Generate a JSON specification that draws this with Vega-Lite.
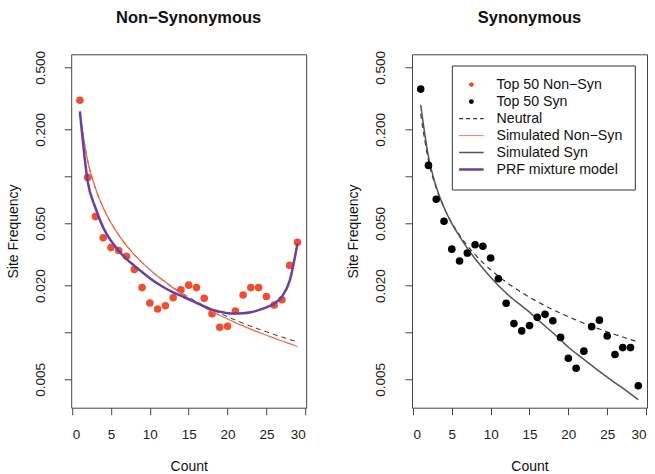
{
  "$schema": "https://vega.github.io/schema/vega-lite/v6.json",
  "background": "white",
  "padding": {"left": 5.2, "top": 9.3, "right": 5, "bottom": 0},
  "bounds": "flush",
  "spacing": 105.8,
  "config": {
    "font": "Liberation Sans",
    "view": {"stroke": "#444", "strokeWidth": 1},
    "axis": {"grid": false, "domain": false, "tickColor": "#444", "tickSize": 7, "labelFontSize": 13.5, "titleFontSize": 14, "labelColor": "#222", "titleColor": "#111", "labelFont": "Liberation Sans", "titleFont": "Liberation Sans", "titleFontWeight": "normal", "labelOverlap": false},
    "title": {"fontSize": 16.5, "font": "Liberation Sans", "fontWeight": "bold", "baseline": "alphabetic", "offset": 23.8, "color": "#111"}
  },
  "datasets": {
    "nonsyn": [
      {"x": 1, "y": 0.308}, {"x": 2, "y": 0.0986}, {"x": 3, "y": 0.0553}, {"x": 4, "y": 0.0404}, {"x": 5, "y": 0.035},
      {"x": 6, "y": 0.0335}, {"x": 7, "y": 0.0308}, {"x": 8, "y": 0.0253}, {"x": 9, "y": 0.0194}, {"x": 10, "y": 0.01545},
      {"x": 11, "y": 0.01415}, {"x": 12, "y": 0.01485}, {"x": 13, "y": 0.0167}, {"x": 14, "y": 0.0188}, {"x": 15, "y": 0.0201},
      {"x": 16, "y": 0.0194}, {"x": 17, "y": 0.01655}, {"x": 18, "y": 0.0132}, {"x": 19, "y": 0.0108}, {"x": 20, "y": 0.01096},
      {"x": 21, "y": 0.01374}, {"x": 22, "y": 0.01738}, {"x": 23, "y": 0.0194}, {"x": 24, "y": 0.0194}, {"x": 25, "y": 0.017},
      {"x": 26, "y": 0.015}, {"x": 27, "y": 0.0162}, {"x": 28, "y": 0.0269}, {"x": 29, "y": 0.0379}
    ],
    "syn": [
      {"x": 1, "y": 0.363, "series": "Top 50 Syn"}, {"x": 2, "y": 0.1177, "series": "Top 50 Syn"}, {"x": 3, "y": 0.0714, "series": "Top 50 Syn"},
      {"x": 4, "y": 0.0516, "series": "Top 50 Syn"}, {"x": 5, "y": 0.0342, "series": "Top 50 Syn"}, {"x": 6, "y": 0.0287, "series": "Top 50 Syn"},
      {"x": 7, "y": 0.0323, "series": "Top 50 Syn"}, {"x": 8, "y": 0.0365, "series": "Top 50 Syn"}, {"x": 9, "y": 0.0357, "series": "Top 50 Syn"},
      {"x": 10, "y": 0.03, "series": "Top 50 Syn"}, {"x": 11, "y": 0.0221, "series": "Top 50 Syn"}, {"x": 12, "y": 0.0154, "series": "Top 50 Syn"},
      {"x": 13, "y": 0.0114, "series": "Top 50 Syn"}, {"x": 14, "y": 0.01024, "series": "Top 50 Syn"}, {"x": 15, "y": 0.01107, "series": "Top 50 Syn"},
      {"x": 16, "y": 0.0125, "series": "Top 50 Syn"}, {"x": 17, "y": 0.01307, "series": "Top 50 Syn"}, {"x": 18, "y": 0.0119, "series": "Top 50 Syn"},
      {"x": 19, "y": 0.0093, "series": "Top 50 Syn"}, {"x": 20, "y": 0.00684, "series": "Top 50 Syn"}, {"x": 21, "y": 0.0059, "series": "Top 50 Syn"},
      {"x": 22, "y": 0.00759, "series": "Top 50 Syn"}, {"x": 23, "y": 0.0109, "series": "Top 50 Syn"}, {"x": 24, "y": 0.012, "series": "Top 50 Syn"},
      {"x": 25, "y": 0.0095, "series": "Top 50 Syn"}, {"x": 26, "y": 0.00722, "series": "Top 50 Syn"}, {"x": 27, "y": 0.008, "series": "Top 50 Syn"},
      {"x": 28, "y": 0.008, "series": "Top 50 Syn"}, {"x": 29, "y": 0.00456, "series": "Top 50 Syn"}
    ],
    "curves": [
      {"series": "Neutral", "x": 1, "y": 0.2524}, {"series": "Neutral", "x": 2, "y": 0.1262}, {"series": "Neutral", "x": 3, "y": 0.08414},
      {"series": "Neutral", "x": 4, "y": 0.06311}, {"series": "Neutral", "x": 5, "y": 0.05048}, {"series": "Neutral", "x": 6, "y": 0.04207},
      {"series": "Neutral", "x": 7, "y": 0.03606}, {"series": "Neutral", "x": 8, "y": 0.03155}, {"series": "Neutral", "x": 9, "y": 0.02805},
      {"series": "Neutral", "x": 10, "y": 0.02524}, {"series": "Neutral", "x": 11, "y": 0.02295}, {"series": "Neutral", "x": 12, "y": 0.02104},
      {"series": "Neutral", "x": 13, "y": 0.01942}, {"series": "Neutral", "x": 14, "y": 0.01803}, {"series": "Neutral", "x": 15, "y": 0.01683},
      {"series": "Neutral", "x": 16, "y": 0.01578}, {"series": "Neutral", "x": 17, "y": 0.01485}, {"series": "Neutral", "x": 18, "y": 0.01402},
      {"series": "Neutral", "x": 19, "y": 0.01329}, {"series": "Neutral", "x": 20, "y": 0.01262}, {"series": "Neutral", "x": 21, "y": 0.01202},
      {"series": "Neutral", "x": 22, "y": 0.01147}, {"series": "Neutral", "x": 23, "y": 0.01097}, {"series": "Neutral", "x": 24, "y": 0.01052},
      {"series": "Neutral", "x": 25, "y": 0.0101}, {"series": "Neutral", "x": 26, "y": 0.00971}, {"series": "Neutral", "x": 27, "y": 0.00935},
      {"series": "Neutral", "x": 28, "y": 0.00901}, {"series": "Neutral", "x": 29, "y": 0.0087},

      {"series": "SimNonSyn", "x": 1, "y": 0.2524}, {"series": "SimNonSyn", "x": 2, "y": 0.1262}, {"series": "SimNonSyn", "x": 3, "y": 0.08414},
      {"series": "SimNonSyn", "x": 4, "y": 0.06311}, {"series": "SimNonSyn", "x": 5, "y": 0.05048}, {"series": "SimNonSyn", "x": 6, "y": 0.04207},
      {"series": "SimNonSyn", "x": 7, "y": 0.03606}, {"series": "SimNonSyn", "x": 8, "y": 0.03155}, {"series": "SimNonSyn", "x": 9, "y": 0.02805},
      {"series": "SimNonSyn", "x": 10, "y": 0.02524}, {"series": "SimNonSyn", "x": 11, "y": 0.02295}, {"series": "SimNonSyn", "x": 12, "y": 0.02104},
      {"series": "SimNonSyn", "x": 13, "y": 0.01932}, {"series": "SimNonSyn", "x": 14, "y": 0.01785}, {"series": "SimNonSyn", "x": 15, "y": 0.01658},
      {"series": "SimNonSyn", "x": 16, "y": 0.01546}, {"series": "SimNonSyn", "x": 17, "y": 0.01451}, {"series": "SimNonSyn", "x": 18, "y": 0.01364},
      {"series": "SimNonSyn", "x": 19, "y": 0.01289}, {"series": "SimNonSyn", "x": 20, "y": 0.0122}, {"series": "SimNonSyn", "x": 21, "y": 0.01158},
      {"series": "SimNonSyn", "x": 22, "y": 0.01101}, {"series": "SimNonSyn", "x": 23, "y": 0.0105}, {"series": "SimNonSyn", "x": 24, "y": 0.01003},
      {"series": "SimNonSyn", "x": 25, "y": 0.0096}, {"series": "SimNonSyn", "x": 26, "y": 0.0092}, {"series": "SimNonSyn", "x": 27, "y": 0.00882},
      {"series": "SimNonSyn", "x": 28, "y": 0.00847}, {"series": "SimNonSyn", "x": 29, "y": 0.00813},

      {"series": "PRF", "x": 1, "y": 0.261}, {"series": "PRF", "x": 2, "y": 0.093}, {"series": "PRF", "x": 3, "y": 0.063},
      {"series": "PRF", "x": 4, "y": 0.047}, {"series": "PRF", "x": 5, "y": 0.0387}, {"series": "PRF", "x": 6, "y": 0.0334},
      {"series": "PRF", "x": 7, "y": 0.0295}, {"series": "PRF", "x": 8, "y": 0.0268}, {"series": "PRF", "x": 9, "y": 0.0244},
      {"series": "PRF", "x": 10, "y": 0.0223}, {"series": "PRF", "x": 11, "y": 0.0206}, {"series": "PRF", "x": 12, "y": 0.0192},
      {"series": "PRF", "x": 13, "y": 0.0181}, {"series": "PRF", "x": 14, "y": 0.0172}, {"series": "PRF", "x": 15, "y": 0.0163},
      {"series": "PRF", "x": 16, "y": 0.0155}, {"series": "PRF", "x": 17, "y": 0.0147}, {"series": "PRF", "x": 18, "y": 0.014},
      {"series": "PRF", "x": 19, "y": 0.0136}, {"series": "PRF", "x": 20, "y": 0.0133}, {"series": "PRF", "x": 21, "y": 0.01325},
      {"series": "PRF", "x": 22, "y": 0.0133}, {"series": "PRF", "x": 23, "y": 0.0135}, {"series": "PRF", "x": 24, "y": 0.0139},
      {"series": "PRF", "x": 25, "y": 0.0145}, {"series": "PRF", "x": 26, "y": 0.0153}, {"series": "PRF", "x": 27, "y": 0.017},
      {"series": "PRF", "x": 28, "y": 0.0215}, {"series": "PRF", "x": 29, "y": 0.0372},

      {"series": "SimSyn", "x": 1, "y": 0.288}, {"series": "SimSyn", "x": 2, "y": 0.134}, {"series": "SimSyn", "x": 3, "y": 0.0859},
      {"series": "SimSyn", "x": 4, "y": 0.0632}, {"series": "SimSyn", "x": 5, "y": 0.05}, {"series": "SimSyn", "x": 6, "y": 0.0413},
      {"series": "SimSyn", "x": 7, "y": 0.0347}, {"series": "SimSyn", "x": 8, "y": 0.0297}, {"series": "SimSyn", "x": 9, "y": 0.0258},
      {"series": "SimSyn", "x": 10, "y": 0.0226}, {"series": "SimSyn", "x": 11, "y": 0.02}, {"series": "SimSyn", "x": 12, "y": 0.0179},
      {"series": "SimSyn", "x": 13, "y": 0.0162}, {"series": "SimSyn", "x": 14, "y": 0.0148}, {"series": "SimSyn", "x": 15, "y": 0.0135},
      {"series": "SimSyn", "x": 16, "y": 0.01216}, {"series": "SimSyn", "x": 17, "y": 0.011}, {"series": "SimSyn", "x": 18, "y": 0.00997},
      {"series": "SimSyn", "x": 19, "y": 0.00898}, {"series": "SimSyn", "x": 20, "y": 0.00804}, {"series": "SimSyn", "x": 21, "y": 0.00734},
      {"series": "SimSyn", "x": 22, "y": 0.00672}, {"series": "SimSyn", "x": 23, "y": 0.00615}, {"series": "SimSyn", "x": 24, "y": 0.00563},
      {"series": "SimSyn", "x": 25, "y": 0.00518}, {"series": "SimSyn", "x": 26, "y": 0.00476}, {"series": "SimSyn", "x": 27, "y": 0.0044},
      {"series": "SimSyn", "x": 28, "y": 0.00404}, {"series": "SimSyn", "x": 29, "y": 0.00371}
    ]
  },
  "hconcat": [
    {
      "width": 235,
      "height": 353.4,
      "title": "Non−Synonymous",
      "encoding": {
        "x": {"field": "x", "type": "quantitative", "scale": {"domain": [-0.12, 30.12], "nice": false, "zero": false},
              "axis": {"values": [0, 5, 10, 15, 20, 25, 30], "title": "Count", "labelPadding": 13, "titleY": 63, "titleBaseline": "alphabetic"}},
        "y": {"field": "y", "type": "quantitative", "scale": {"type": "log", "domain": [0.003296, 0.6067], "nice": false, "zero": false},
              "axis": {"values": [0.005, 0.01, 0.02, 0.05, 0.1, 0.2, 0.5], "labelExpr": "datum.value == 0.1 || datum.value == 0.01 ? '' : format(datum.value, '.3f')",
                       "labelAngle": -90, "labelAlign": "center", "labelBaseline": "alphabetic", "labelPadding": 20,
                       "title": "Site Frequency", "titleX": -54, "titleY": 176.7, "titleAngle": -90, "titleAlign": "center", "titleBaseline": "alphabetic"}}
      },
      "layer": [
        {"data": {"name": "nonsyn"}, "mark": {"type": "point", "filled": true, "size": 58, "opacity": 1, "color": "#ef4f2f"}},
        {"data": {"name": "curves"}, "transform": [{"filter": "datum.series == 'Neutral'"}], "mark": {"type": "line", "color": "#333", "strokeWidth": 1, "strokeDash": [5, 4], "interpolate": "monotone"}},
        {"data": {"name": "curves"}, "transform": [{"filter": "datum.series == 'SimNonSyn'"}], "mark": {"type": "line", "color": "#f06a4a", "strokeWidth": 1.3, "interpolate": "monotone"}},
        {"data": {"name": "curves"}, "transform": [{"filter": "datum.series == 'PRF'"}], "mark": {"type": "line", "color": "#6b3fa0", "strokeWidth": 2.5, "interpolate": "monotone"}}
      ]
    },
    {
      "width": 235,
      "height": 353.4,
      "title": "Synonymous",
      "encoding": {
        "x": {"field": "x", "type": "quantitative", "scale": {"domain": [-0.12, 30.12], "nice": false, "zero": false},
              "axis": {"values": [0, 5, 10, 15, 20, 25, 30], "title": "Count", "labelPadding": 13, "titleY": 63, "titleBaseline": "alphabetic"}},
        "y": {"field": "y", "type": "quantitative", "scale": {"type": "log", "domain": [0.003296, 0.6067], "nice": false, "zero": false},
              "axis": {"values": [0.005, 0.01, 0.02, 0.05, 0.1, 0.2, 0.5], "labelExpr": "datum.value == 0.1 || datum.value == 0.01 ? '' : format(datum.value, '.3f')",
                       "labelAngle": -90, "labelAlign": "center", "labelBaseline": "alphabetic", "labelPadding": 20,
                       "title": "Site Frequency", "titleX": -54, "titleY": 176.7, "titleAngle": -90, "titleAlign": "center", "titleBaseline": "alphabetic"}}
      },
      "layer": [
        {"data": {"name": "curves"}, "transform": [{"filter": "datum.series == 'Neutral'"}], "mark": {"type": "line", "color": "#333", "strokeWidth": 1.2, "strokeDash": [5, 4], "interpolate": "monotone"}},
        {"data": {"name": "curves"}, "transform": [{"filter": "datum.series == 'SimSyn'"}], "mark": {"type": "line", "color": "#555", "strokeWidth": 1.5, "interpolate": "monotone"}},
        {"data": {"name": "syn"}, "mark": {"type": "point", "filled": true, "size": 58, "opacity": 1},
         "encoding": {
           "fill": {"field": "series", "type": "nominal",
             "scale": {"domain": ["Top 50 Non−Syn", "Top 50 Syn", "Neutral", "Simulated Non−Syn", "Simulated Syn", "PRF mixture model"],
                       "range": ["#ef4f2f", "#000000", "#333333", "#f06a4a", "#555555", "#6b3fa0"]},
             "legend": {"title": null, "orient": "none", "legendX": 380.6, "legendY": 11.2, "strokeColor": "#333", "fillColor": "white",
                        "padding": 12, "symbolSize": 24, "symbolOffset": 0.5, "labelOffset": 18, "labelFontSize": 14.2, "labelFont": "Liberation Sans",
                        "labelColor": "#111", "rowPadding": 2.0, "labelLimit": 300, "symbolOpacity": 1}},
           "stroke": {"field": "series", "type": "nominal",
             "scale": {"domain": ["Top 50 Non−Syn", "Top 50 Syn", "Neutral", "Simulated Non−Syn", "Simulated Syn", "PRF mixture model"],
                       "range": ["#ef4f2f", "#000000", "#333333", "#f06a4a", "#555555", "#6b3fa0"]},
             "legend": {"title": null, "orient": "none", "legendX": 380.6, "legendY": 11.2, "strokeColor": "#333", "fillColor": "white",
                        "padding": 12, "symbolSize": 24, "symbolOffset": 0.5, "labelOffset": 18, "labelFontSize": 14.2, "labelFont": "Liberation Sans",
                        "labelColor": "#111", "rowPadding": 2.0, "labelLimit": 300, "symbolOpacity": 1}},
           "shape": {"field": "series", "type": "nominal",
             "scale": {"domain": ["Top 50 Non−Syn", "Top 50 Syn", "Neutral", "Simulated Non−Syn", "Simulated Syn", "PRF mixture model"],
                       "range": ["circle", "circle", "M-5,0H5", "M-5,0H5", "M-5,0H5", "M-5,0H5"]},
             "legend": {"title": null, "orient": "none", "legendX": 380.6, "legendY": 11.2, "strokeColor": "#333", "fillColor": "white",
                        "padding": 12, "symbolSize": 24, "symbolOffset": 0.5, "labelOffset": 18, "labelFontSize": 14.2, "labelFont": "Liberation Sans",
                        "labelColor": "#111", "rowPadding": 2.0, "labelLimit": 300, "symbolOpacity": 1}},
           "strokeDash": {"field": "series", "type": "nominal",
             "scale": {"domain": ["Top 50 Non−Syn", "Top 50 Syn", "Neutral", "Simulated Non−Syn", "Simulated Syn", "PRF mixture model"],
                       "range": [[1, 0], [1, 0], [4, 3], [1, 0], [1, 0], [1, 0]]},
             "legend": {"title": null, "orient": "none", "legendX": 380.6, "legendY": 11.2, "strokeColor": "#333", "fillColor": "white",
                        "padding": 12, "symbolSize": 24, "symbolOffset": 0.5, "labelOffset": 18, "labelFontSize": 14.2, "labelFont": "Liberation Sans",
                        "labelColor": "#111", "rowPadding": 2.0, "labelLimit": 300, "symbolOpacity": 1}},
           "strokeWidth": {"field": "series", "type": "nominal",
             "scale": {"type": "ordinal", "domain": ["Top 50 Non−Syn", "Top 50 Syn", "Neutral", "Simulated Non−Syn", "Simulated Syn", "PRF mixture model"],
                       "range": [0, 0, 1.3, 1, 1.5, 2.5]},
             "legend": {"title": null, "orient": "none", "legendX": 380.6, "legendY": 11.2, "strokeColor": "#333", "fillColor": "white",
                        "padding": 12, "symbolSize": 24, "symbolOffset": 0.5, "labelOffset": 18, "labelFontSize": 14.2, "labelFont": "Liberation Sans",
                        "labelColor": "#111", "rowPadding": 2.0, "labelLimit": 300, "symbolOpacity": 1}}
         }}
      ]
    }
  ]
}
